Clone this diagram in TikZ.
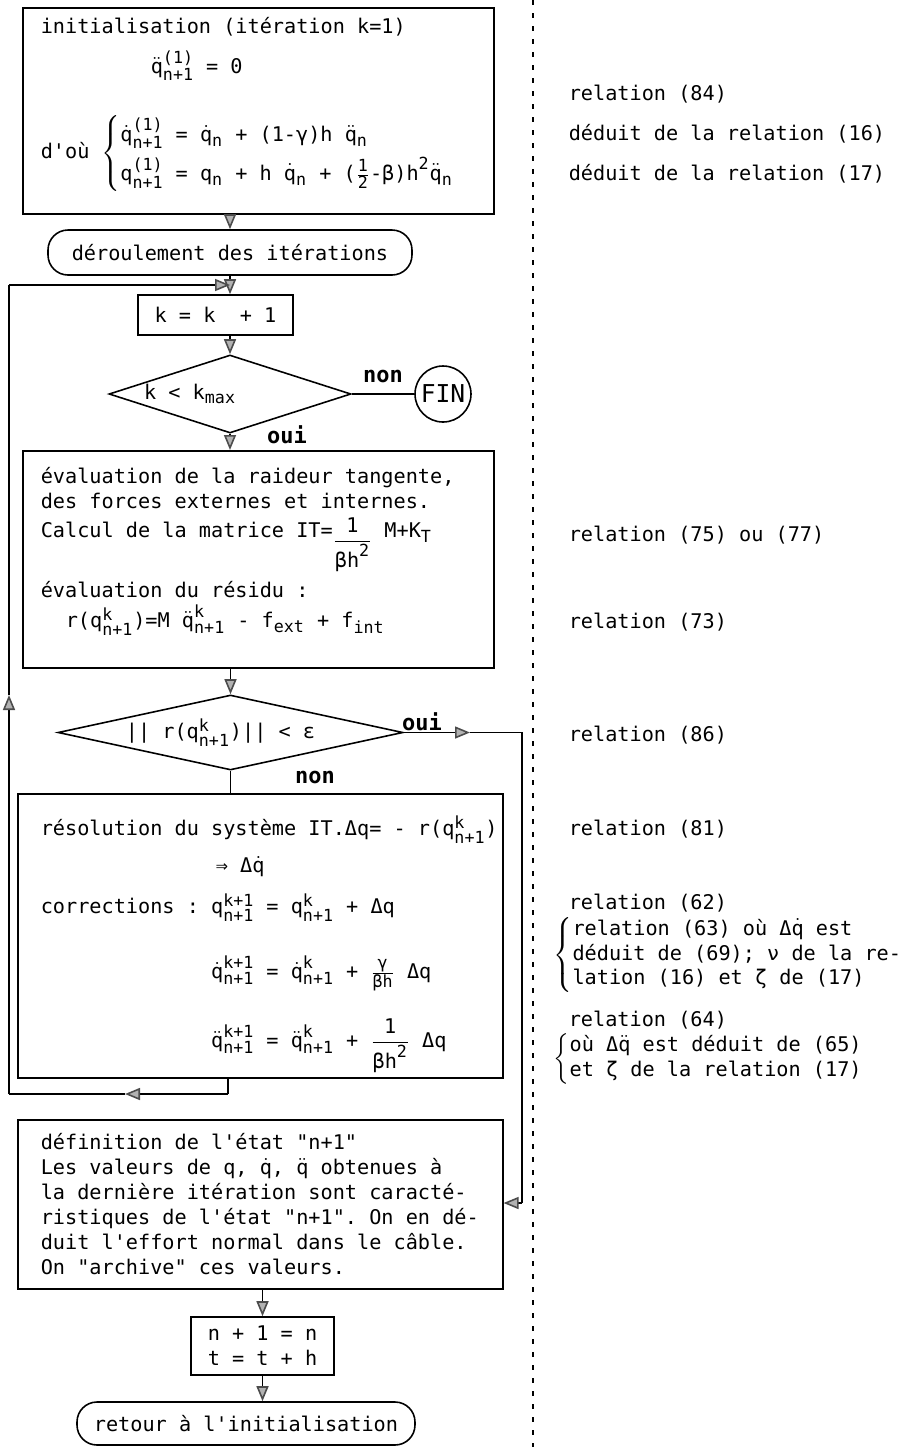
\documentclass[tikz,border=0pt]{standalone}
\usepackage{amsmath}
\usepackage{fontspec}
\setmonofont{DejaVu Sans Mono}
\usetikzlibrary{arrows.meta,positioning,shapes.geometric}
\DeclareMathSizes{11.5}{11.5}{9.5}{8}
\newcommand\tx[1]{\text{#1}}
\newcommand\qsc[3]{$#1{\tx{q}}^{\tx{#2}}_{\tx{#3}}$}

\begin{document}
\begin{tikzpicture}[>={Triangle[length=0.3cm,width=0.24cm,fill=gray!60,color=gray!60!black]},
  line width=0.9pt, font=\ttfamily\fontsize{11.5}{14.2}\selectfont,
  box/.style={draw, align=left, inner xsep=0.36cm, inner ysep=0.1cm, anchor=north west,
              execute at begin node={\spaceskip=0pt\xspaceskip=0pt\lineskiplimit=-100pt\lineskip=0pt}},
  roundbox/.style={draw, rounded corners=0.4cm, inner sep=0pt},
  test/.style={draw, diamond, inner sep=0pt},
  lab/.style={font=\ttfamily\bfseries\fontsize{12.5}{14}\selectfont, inner sep=1pt},
  note/.style={anchor=west, inner sep=0pt}]
\useasboundingbox (0,0) rectangle (18.18,-28.94);
% initialisation
\node[box, text width=8.7cm, minimum width=9.42cm, text height=0.42cm, text depth=3.5cm] (init) at (0.44,-0.14) {%
initialisation (itération k=1)\\[8.6pt]
\hspace*{2.2cm}\qsc{\ddot}{(1)}{n+1} = 0\\[34pt]
d'où $\lineskiplimit=0pt\left\{\begin{array}{@{}l@{}}
 \dot{\tx q}^{\tx{(1)}}_{\tx{n+1}}\tx{ = }\dot{\tx q}_{\tx n}\tx{ + (1-γ)h }\ddot{\tx q}_{\tx n}\\[5pt]
 \tx{q}^{\tx{(1)}}_{\tx{n+1}}\tx{ = q}_{\tx n}\tx{ + h }\dot{\tx q}_{\tx n}\tx{ + (}\frac{\tx 1}{\tx 2}\tx{-β)h}^{\tx 2}\ddot{\tx q}_{\tx n}
\end{array}\right.$};
\node[roundbox, minimum width=7.28cm, minimum height=0.9cm] (deroul) at (4.6,-5.05) {déroulement des itérations};
% iteration loop
\node[draw, minimum width=3.1cm, minimum height=0.8cm] (incr) at (4.31,-6.3) {k = k\ \ + 1};
\node[test, minimum width=4.84cm, minimum height=1.56cm, shape aspect=3.2] (test1) at (4.6,-7.88) {\hspace*{-0.8cm}k < k$_{\tx{max}}$\hspace*{0.8cm}};
\node[draw, circle, minimum size=1.12cm, inner sep=0pt, font=\ttfamily\fontsize{14}{16}\selectfont] (fin) at (8.86,-7.88) {FIN};
\node[lab] (oui1) at (5.74,-8.7) {oui};
\node[box, text width=8.7cm, minimum width=9.42cm, text height=0.56cm, text depth=3.58cm] (eval) at (0.44,-9.0) {%
évaluation de la raideur tangente,\\
des forces externes et internes.\\[2.3pt]
Calcul de la matrice IT=\raisebox{-0.45em}{$\dfrac{\tx 1}{\tx{βh}^{\tx 2}}$} M+K$_{\tx T}$\\[20pt]
évaluation du résidu :\\[2.9pt]
\hspace*{0.5cm}r(\qsc{}{k}{n+1})=M \qsc{\ddot}{k}{n+1} - f$_{\tx{ext}}$ + f$_{\tx{int}}$};
\node[test, minimum width=6.9cm, minimum height=1.5cm, shape aspect=4.6] (test2) at (4.61,-14.65) {\hspace*{-0.2cm}|| r(\qsc{}{k}{n+1})|| < ε\hspace*{0.2cm}};
\node[lab] (oui2) at (8.44,-14.44) {oui};
\node[lab] (non2) at (6.3,-15.54) {non};
\node[box, inner xsep=0.46cm, text width=8.78cm, minimum width=9.7cm, text height=0.74cm, text depth=4.74cm] (resol) at (0.34,-15.86) {%
\mbox{résolution du système IT.Δq= - r(\qsc{}{k}{n+1})}\\[6.9pt]
\hspace*{3.5cm}⇒ Δ$\dot{\tx q}$\\[9.1pt]
corrections : \qsc{}{k+1}{n+1} = \qsc{}{k}{n+1} + Δq\\[22.8pt]
\phantom{corrections : }\qsc{\dot}{k+1}{n+1} = \qsc{\dot}{k}{n+1} + $\frac{\tx γ}{\tx{βh}}$ Δq\\[25.1pt]
\phantom{corrections : }\qsc{\ddot}{k+1}{n+1} = \qsc{\ddot}{k}{n+1} + $\dfrac{\tx 1}{\tx{βh}^{\tx 2}}$ Δq};
% end of step
\node[box, inner xsep=0.46cm, text width=8.78cm, minimum width=9.7cm, minimum height=3.38cm] (defin) at (0.34,-22.38) {%
définition de l'état "n+1"\\
Les valeurs de q, $\dot{\tx q}$, $\ddot{\tx q}$ obtenues à\\
la dernière itération sont caracté-\\
ristiques de l'état "n+1". On en dé-\\
duit l'effort normal dans le câble.\\
On "archive" ces valeurs.};
\node[draw, align=center, minimum width=2.86cm, minimum height=1.16cm, inner sep=0pt] (update) at (5.25,-26.92) {n + 1 = n\\t = t + h};
\node[roundbox, minimum width=6.76cm, minimum height=0.86cm] (retour) at (4.92,-28.47) {retour à l'initialisation};
% connectors
\draw[->] (init.south -| deroul.north) -- (deroul.north);
\draw[->] (deroul.south) -- (deroul.south |- incr.north);
\draw[->] (incr.south -| test1.north) -- (test1.north);
\draw (test1.east) -- node[lab, above=5pt]{non} (fin.west);
\draw[->] (test1.south) -- (test1.south |- eval.north);
\draw[->] (eval.south -| test2.north) -- (test2.north);
\draw (test2.south) -- (test2.south |- resol.north);
% oui branch to the end of step
\coordinate (ouitip) at (9.4,-14.65);
\coordinate (ouiA) at (10.44,-14.65);
\coordinate (ouiB) at (10.44,-24.06);
\draw[->] (test2.east) -- (ouitip);
\draw (ouitip) -- (ouiA) -- (ouiB);
\draw[->] (ouiB) -- (ouiB -| defin.east);
% back to the next iteration
\coordinate (lpA) at (4.56,-21.88);
\coordinate (lpB) at (2.5,-21.88);
\coordinate (lpC) at (0.18,-21.88);
\coordinate (lpD) at (0.18,-13.9);
\coordinate (lpE) at (0.18,-5.7);
\coordinate (lpF) at (4.6,-5.7);
\draw (resol.south -| lpA) -- (lpA);
\draw[->] (lpA) -- (lpB);
\draw (lpB) -- (lpC);
\draw[->] (lpC) -- (lpD);
\draw (lpD) -- (lpE);
\draw[->] (lpE) -- (lpF);
\draw[->] (defin.south -| update.north) -- (update.north);
\draw[->] (update.south) -- (update.south |- retour.north);
% separator and references
\coordinate (sepT) at (10.66,0);
\coordinate (sepB) at (10.66,-28.94);
\draw[line width=1.2pt, dash pattern=on 0.1cm off 0.16cm] (sepT) -- (sepB);
\node[note] (r84) at (11.36,-1.88) {relation (84)};
\node[note] (r16) at (11.36,-2.68) {déduit de la relation (16)};
\node[note] (r17) at (11.36,-3.48) {déduit de la relation (17)};
\node[note] (r75) at (11.36,-10.7) {relation (75) ou (77)};
\node[note] (r73) at (11.36,-12.44) {relation (73)};
\node[note] (r86) at (11.36,-14.7) {relation (86)};
\node[note] (r81) at (11.36,-16.58) {relation (81)};
\node[note] (r62) at (11.36,-18.06) {relation (62)};
\node[note] (r63) at (11.06,-19.1) {$\left\{\begin{tabular}{@{}l@{}}relation (63) où Δ$\dot{\tx q}$ est\\déduit de (69); ν de la re-\\lation (16) et ζ de (17)\end{tabular}\right.$};
\node[note] (r64) at (11.36,-20.4) {relation (64)};
\node[note] (r65) at (11.06,-21.18) {$\left\{\begin{tabular}{@{}l@{}}où Δ$\ddot{\tx q}$ est déduit de (65)\\et ζ de la relation (17)\end{tabular}\right.$};
\end{tikzpicture}
\end{document}
